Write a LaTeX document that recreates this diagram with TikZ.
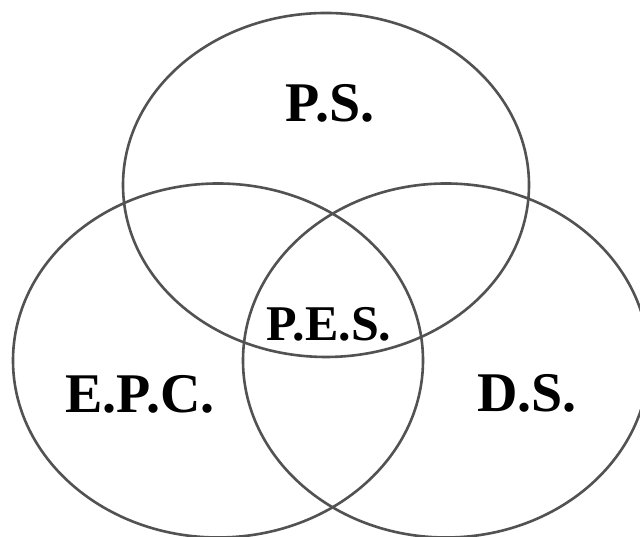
\documentclass[tikz,border=0pt]{standalone}
\usepackage{fontspec}
\setmainfont{Liberation Serif}
\tikzset{
  ring/.style={draw=black!68, line width=2.6pt},
  setname/.style={font=\fontsize{56}{56}\selectfont\bfseries, inner sep=0pt},
  midname/.style={font=\fontsize{50}{50}\selectfont\bfseries, inner sep=0pt}
}
\begin{document}
\begin{tikzpicture}[x=1pt, y=1pt]
\useasboundingbox (0,0) rectangle (640,537);
\clip (0,0) rectangle (640,537);
\fill[white] (0,0) rectangle (640,537);

\draw[ring] (326,352) ellipse [x radius=203, y radius=172];
\draw[ring] (218,176.5) ellipse [x radius=205, y radius=177];
\draw[ring] (446,176.5) ellipse [x radius=203, y radius=177];

\node[setname] (ps) at (330,434) {P.S.};
\node[setname] (epc) at (140,143) {E.P.C.};
\node[setname] (ds) at (527,144) {D.S.};
\node[midname] (pes) at (329,213) {P.E.S.};
\end{tikzpicture}
\end{document}
